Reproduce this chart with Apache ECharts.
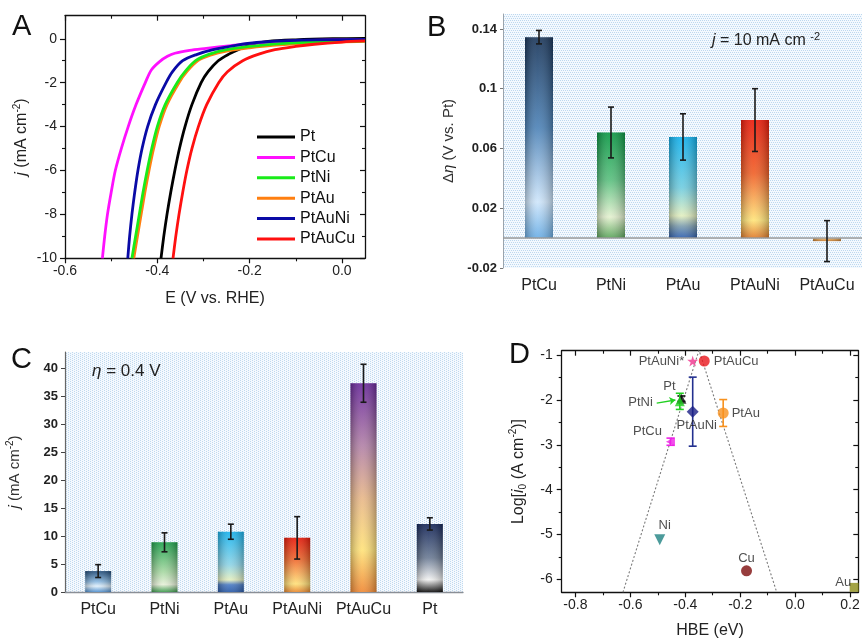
<!DOCTYPE html>
<html><head><meta charset="utf-8">
<script src="https://cdn.jsdelivr.net/npm/echarts@6/dist/echarts.min.js"></script>
<style>html,body{margin:0;padding:0;background:#fff}#c{width:862px;height:639px}</style>
</head><body><div id="c"></div>
<script>
const FONT = '"Liberation Sans", Arial, Helvetica, sans-serif';

// ---------- Panel A : polarization curves [E (V vs RHE), j (mA cm-2)] ----------
const aNames = ['Pt','PtCu','PtNi','PtAu','PtAuNi','PtAuCu'];
const aPt = [[-0.392,-10],[-0.386,-9],[-0.379,-8],[-0.371,-7],[-0.362,-6],[-0.352,-5],[-0.340,-4],[-0.325,-3],[-0.305,-2],[-0.29,-1.5],[-0.268,-1],[-0.245,-0.7],[-0.22,-0.45],[-0.195,-0.25],[-0.16,-0.12],[-0.1,-0.05],[-0.02,0],[0.05,0.02]];
const aPtCu = [[-0.519,-10],[-0.514,-9],[-0.508,-8],[-0.5,-7],[-0.491,-6],[-0.478,-5],[-0.463,-4],[-0.446,-3],[-0.426,-2],[-0.413,-1.42],[-0.395,-1.04],[-0.378,-0.8],[-0.362,-0.66],[-0.33,-0.53],[-0.294,-0.44],[-0.24,-0.31],[-0.185,-0.2],[-0.1,-0.1],[-0.02,-0.05],[0.05,-0.04]];
const aPtNi = [[-0.455,-10],[-0.447,-9],[-0.439,-8],[-0.431,-7],[-0.422,-6],[-0.412,-5],[-0.400,-4],[-0.383,-3],[-0.357,-2],[-0.34,-1.5],[-0.317,-1],[-0.287,-0.7],[-0.25,-0.5],[-0.2,-0.35],[-0.149,-0.24],[-0.08,-0.16],[0.05,-0.1]];
const aPtAu = [[-0.451,-10],[-0.443,-9],[-0.435,-8],[-0.427,-7],[-0.418,-6],[-0.408,-5],[-0.396,-4],[-0.379,-3],[-0.353,-2],[-0.336,-1.5],[-0.312,-1],[-0.285,-0.75],[-0.25,-0.56],[-0.2,-0.41],[-0.15,-0.3],[-0.05,-0.18],[0.05,-0.12]];
const aPtAuNi = [[-0.464,-10],[-0.46,-9],[-0.455,-8],[-0.449,-7],[-0.442,-6],[-0.433,-5],[-0.421,-4],[-0.404,-3],[-0.381,-2],[-0.367,-1.5],[-0.345,-1],[-0.315,-0.72],[-0.279,-0.5],[-0.23,-0.3],[-0.185,-0.17],[-0.1,-0.07],[0.05,-0.03]];
const aPtAuCu = [[-0.366,-10],[-0.36,-9],[-0.353,-8],[-0.345,-7],[-0.336,-6],[-0.325,-5],[-0.311,-4],[-0.293,-3],[-0.267,-2],[-0.248,-1.5],[-0.215,-1],[-0.18,-0.7],[-0.145,-0.5],[-0.1,-0.35],[-0.06,-0.25],[0,-0.15],[0.05,-0.1]];
const aXMajor = [-0.6,-0.4,-0.2,0];
const aXMinor = [-0.5,-0.3,-0.1];
const aYMajor = [-10,-8,-6,-4,-2,0];
const aYMinor = [-9,-7,-5,-3,-1];

// ---------- Panel B : Δη at j = 10 mA cm-2 ----------
const bCats = ['PtCu','PtNi','PtAu','PtAuNi','PtAuCu'];
const bVals = [0.1345, 0.0707, 0.0677, 0.079, -0.002];
const bErr  = [0.0045, 0.017, 0.0155, 0.021, 0.0137];

// ---------- Panel C : j at η = 0.4 V ----------
const cCats = ['PtCu','PtNi','PtAu','PtAuNi','PtAuCu','Pt'];
const cVals = [3.75, 8.9, 10.8, 9.7, 37.4, 12.2];
const cErr  = [1.15, 1.7, 1.35, 3.8, 3.4, 1.1];

// ---------- Panel D : volcano plot ----------
const dNames = ['PtAuNi*','PtAuCu','Pt','PtNi','PtAuNi','PtAu','PtCu','Ni','Cu','Au'];
const dHBE   = [-0.373,-0.331,-0.414,-0.42,-0.373,-0.262,-0.454,-0.493,-0.177,0.215];
const dLog   = [-1.13,-1.13,-1.97,-2.03,-2.26,-2.29,-2.93,-5.12,-5.81,-6.18];
const dErr   = [0,0,0.06,0.18,0.77,0.3,0.08,0,0,0];
const dVolcano = [[-0.627,-6.29],[-0.35,-0.89],[-0.067,-6.29]];
const dXMajor = [-0.8,-0.6,-0.4,-0.2,0,0.2];
const dXMinor = [-0.7,-0.5,-0.3,-0.1,0.1];
const dYMajor = [-6,-5,-4,-3,-2,-1];
const dYMinor = [-5.5,-4.5,-3.5,-2.5,-1.5];

// ---------------- styles ----------------
const aColors = {Pt:'#000000',PtCu:'#ff10ff',PtNi:'#18ec18',PtAu:'#ff7f10',PtAuNi:'#0a0aa6',PtAuCu:'#ff1010'};
const aData = {Pt:aPt,PtCu:aPtCu,PtNi:aPtNi,PtAu:aPtAu,PtAuNi:aPtAuNi,PtAuCu:aPtAuCu};
function vgrad(stops){return {type:'linear',x:0,y:0,x2:0,y2:1,colorStops:stops.map(s=>({offset:s[0],color:s[1]}))};}
const bGrad = {
  PtCu: vgrad([[0,'#1c385c'],[0.45,'#4f84b8'],[0.82,'#cfe6fb'],[1,'#6aaee6']]),
  PtNi: vgrad([[0,'#0c9a46'],[0.45,'#5cc080'],[0.8,'#e4f1d0'],[1,'#5aa55a']]),
  PtAu: vgrad([[0,'#12b2ee'],[0.5,'#72cde0'],[0.78,'#e2efc0'],[0.88,'#7f9fb0'],[1,'#2e5fb0']]),
  PtAuNi: vgrad([[0,'#ee1c0c'],[0.45,'#f0622a'],[0.85,'#ffe47a'],[1,'#e07a2a']]),
  PtAuCu: vgrad([[0,'#f4c27a'],[1,'#c87a2a']])
};
const cGrad = {
  PtCu: vgrad([[0,'#1f4a78'],[0.5,'#8ab8e0'],[0.72,'#e0f0fc'],[1,'#4f90d0']]),
  PtNi: vgrad([[0,'#1fa24c'],[0.6,'#a9d9a4'],[0.85,'#e6f0d8'],[1,'#3c9a4c']]),
  PtAu: vgrad([[0,'#18b4ef'],[0.55,'#8fd4e6'],[0.8,'#e4efc0'],[0.88,'#4c7cc4'],[1,'#2a5aa8']]),
  PtAuNi: vgrad([[0,'#ea1a0a'],[0.4,'#f06a30'],[0.85,'#ffe07a'],[1,'#ea8a30']]),
  PtAuCu: vgrad([[0,'#6b2a9c'],[0.3,'#b383a8'],[0.55,'#e8b88a'],[0.8,'#ffe27a'],[1,'#f08a36']]),
  Pt: vgrad([[0,'#15275a'],[0.5,'#6d7d96'],[0.82,'#f2f2f2'],[1,'#0a0a0a']])
};
const shade = {type:'linear',x:0,y:0,x2:1,y2:0,colorStops:[{offset:0,color:'rgba(0,0,0,0.28)'},{offset:0.45,color:'rgba(255,255,255,0.08)'},{offset:1,color:'rgba(0,0,0,0.28)'}]};
const STAR = 'path://M50,0 L61,35 L98,35 L68,57 L79,91 L50,70 L21,91 L32,57 L2,35 L39,35 Z';
const dStyle = {
  'PtAuNi*':{symbol:STAR,size:11,color:'#f0328c',label:{position:'left',distance:3}},
  'PtAuCu':{symbol:'circle',size:11,color:'#e8151c',label:{position:'right',distance:4}},
  'Pt':{symbol:'triangle',size:10,color:'#111111',label:{position:'top',distance:1,offset:[-12,0]}},
  'PtNi':{symbol:'triangle',size:10,color:'#22d022',label:{position:'left',distance:22,offset:[0,1]}},
  'PtAuNi':{symbol:'diamond',size:12,color:'#1a1f86',label:{position:'bottom',distance:1,offset:[4,0]}},
  'PtAu':{symbol:'circle',size:11,color:'#f7911e',label:{position:'right',distance:3}},
  'PtCu':{symbol:'triangle',rotate:90,size:9,color:'#ee22e6',label:{position:'left',distance:4,offset:[0,-10]}},
  'Ni':{symbol:'triangle',rotate:180,size:11,color:'#1f8282',label:{position:'top',distance:2,offset:[5,0]}},
  'Cu':{symbol:'circle',size:11,color:'#7d0d0d',label:{position:'top',distance:0}},
  'Au':{symbol:'rect',size:9,color:'#8c8c16',label:{position:'top',distance:0,offset:[-11,6]}}
};
function pattern(bg, fg, dots, w, h){
  const c=document.createElement('canvas'); c.width=w; c.height=h;
  const g=c.getContext('2d'); g.fillStyle=bg; g.fillRect(0,0,w,h); g.fillStyle=fg;
  dots.forEach(d=>g.fillRect(d[0],d[1],1,1)); return {image:c, repeat:'repeat'};
}
const patB = pattern('#f4f9fe','#bdd8ef',[[0,0],[1,2]],2,4);
const patC = pattern('#f4f9fe','#bfd9ef',[[0,0],[2,1]],4,2);

const nameStyle = (size)=>({fontSize:size,color:'#222',fontFamily:FONT,lineHeight:20,
  rich:{i:{fontStyle:'italic',fontSize:size,fontFamily:FONT,color:'#222',lineHeight:20},
        s:{fontSize:Math.round(size*0.65),fontFamily:FONT,color:'#222',verticalAlign:'top',lineHeight:20},
        b:{fontSize:Math.round(size*0.65),fontFamily:FONT,color:'#222',verticalAlign:'bottom',lineHeight:20}}});

// ---------------- axes ----------------
const xAxes=[], yAxes=[];
const LC = '#111';
function boxAxes(gi, dim, min, max, major, minor, fmt, fs, margin, name, gap, nfs){
  const arr = dim==='x'?xAxes:yAxes;
  const p1 = dim==='x'?'bottom':'left', p2 = dim==='x'?'top':'right';
  const base = {gridIndex:gi,type:'value',min:min,max:max,splitLine:{show:false},axisLabel:{show:false}};
  const idx = arr.length;
  const main = Object.assign({},base,{position:p1,
    axisLine:{show:true,onZero:false,lineStyle:{color:LC,width:1.3}},
    axisTick:{show:true,inside:false,length:5,customValues:major,lineStyle:{color:LC,width:1.2}},
    axisLabel:{show:true,customValues:major,formatter:fmt,fontSize:fs,color:'#222',fontFamily:FONT,margin:margin},
    name:name,nameLocation:'middle',nameGap:gap,nameTextStyle:nameStyle(nfs)});
  if(dim==='y') main.nameRotate = 90;
  arr.push(main);
  arr.push(Object.assign({},base,{position:p1,axisLine:{show:false,onZero:false},
    axisTick:{show:true,inside:false,length:3,customValues:minor,lineStyle:{color:LC,width:1.1}}}));
  arr.push(Object.assign({},base,{position:p2,axisLine:{show:true,onZero:false,lineStyle:{color:LC,width:1.3}},
    axisTick:{show:true,inside:true,length:5,customValues:major,lineStyle:{color:LC,width:1.2}}}));
  arr.push(Object.assign({},base,{position:p2,axisLine:{show:false,onZero:false},
    axisTick:{show:true,inside:true,length:3,customValues:minor,lineStyle:{color:LC,width:1.1}}}));
  return idx;
}
const fmt1 = v=>v.toFixed(1);
const fmt0 = v=>String(Math.round(v));
const axA_x = boxAxes(0,'x',-0.6,0.05,aXMajor,aXMinor,fmt1,14,6,'E (V vs. RHE)',30,16);
const axA_y = boxAxes(0,'y',-10,1.05,aYMajor,aYMinor,fmt0,14,8,'{i|j} (mA cm{s|-2})',33,16);
const axB_x = xAxes.length;
xAxes.push({gridIndex:1,type:'category',data:bCats,axisLine:{show:false,onZero:false},axisTick:{show:false},
  axisLabel:{interval:0,fontSize:16,color:'#222',fontFamily:FONT,margin:10},splitLine:{show:false}});
const axB_y = yAxes.length;
yAxes.push({gridIndex:1,type:'value',min:-0.02,max:0.15,interval:0.04,splitLine:{show:false},
  axisLine:{show:true,onZero:false,lineStyle:{color:'#9aa4ad',width:1}},
  axisTick:{show:true,length:3,lineStyle:{color:'#777'}},
  axisLabel:{showMaxLabel:false,fontWeight:'bold',fontSize:13,color:'#222',fontFamily:FONT,margin:6},
  name:'Δ{i|η} (V vs. Pt)',nameLocation:'middle',nameRotate:90,nameGap:44,nameTextStyle:Object.assign(nameStyle(15),{color:'#333'})});
const axC_x = xAxes.length;
xAxes.push({gridIndex:2,type:'category',data:cCats,axisLine:{show:true,onZero:false,lineStyle:{color:'#8a8f96',width:1.3}},axisTick:{show:false},
  axisLabel:{interval:0,fontSize:16,color:'#222',fontFamily:FONT,margin:10},splitLine:{show:false}});
const axC_y = yAxes.length;
yAxes.push({gridIndex:2,type:'value',min:0,max:43,interval:5,splitLine:{show:false},
  axisLine:{show:true,onZero:false,lineStyle:{color:'#666',width:1.2}},
  axisTick:{show:true,length:4,lineStyle:{color:'#444'}},
  axisLabel:{showMaxLabel:false,fontWeight:'bold',fontSize:13,color:'#222',fontFamily:FONT,margin:7},
  name:'{i|j} (mA cm{s|-2})',nameLocation:'middle',nameRotate:90,nameGap:40,nameTextStyle:Object.assign(nameStyle(15),{color:'#333'})});
const axD_x = boxAxes(3,'x',-0.85,0.23,dXMajor,dXMinor,fmt1,14,6,'HBE (eV)',28,16);
const axD_y = boxAxes(3,'y',-6.29,-0.9,dYMajor,dYMinor,fmt0,14,9,'Log[{i|i}{b|0} (A cm{s|-2})]',33,16);

// ---------------- series ----------------
function errRender(capW, lw){
  return function(params, api){
    const x=api.value(0), y=api.value(1), e=api.value(2);
    if(!e) return null;
    const t=api.coord([x,y+e]), b=api.coord([x,y-e]);
    const st={stroke:api.visual('color'),lineWidth:lw};
    return {type:'group',children:[
      {type:'line',shape:{x1:t[0],y1:t[1],x2:b[0],y2:b[1]},style:st},
      {type:'line',shape:{x1:t[0]-capW/2,y1:t[1],x2:t[0]+capW/2,y2:t[1]},style:st},
      {type:'line',shape:{x1:b[0]-capW/2,y1:b[1],x2:b[0]+capW/2,y2:b[1]},style:st}]};
  };
}
const series = [];
['Pt','PtCu','PtAu','PtNi','PtAuNi','PtAuCu'].forEach(n=>{
  series.push({name:n,type:'line',xAxisIndex:axA_x,yAxisIndex:axA_y,data:aData[n],showSymbol:false,symbol:'none',
    smooth:0.3,lineStyle:{width:2.8,color:aColors[n]},itemStyle:{color:aColors[n]},z:3,clip:true});
});
// B
series.push({type:'bar',xAxisIndex:axB_x,yAxisIndex:axB_y,barWidth:28,barGap:'-100%',z:2,
  data:bVals.map((v,i)=>({value:v,itemStyle:{color:bGrad[bCats[i]]}})),
  markLine:{silent:true,symbol:['none','none'],label:{show:false},lineStyle:{color:'#9a9a9a',width:1.5,type:'solid'},data:[{yAxis:0}]}});
series.push({type:'bar',xAxisIndex:axB_x,yAxisIndex:axB_y,barWidth:28,barGap:'-100%',z:3,silent:true,
  data:bVals.map(v=>({value:v,itemStyle:{color:shade}}))});
series.push({type:'custom',xAxisIndex:axB_x,yAxisIndex:axB_y,z:5,itemStyle:{color:'#1a1a1a'},
  renderItem:errRender(6,1.6),data:bVals.map((v,i)=>[i,v,bErr[i]])});
// C
series.push({type:'bar',xAxisIndex:axC_x,yAxisIndex:axC_y,barWidth:26,barGap:'-100%',z:2,
  data:cVals.map((v,i)=>({value:v,itemStyle:{color:cGrad[cCats[i]]}}))});
series.push({type:'bar',xAxisIndex:axC_x,yAxisIndex:axC_y,barWidth:26,barGap:'-100%',z:3,silent:true,
  data:cVals.map(v=>({value:v,itemStyle:{color:shade}}))});
series.push({type:'custom',xAxisIndex:axC_x,yAxisIndex:axC_y,z:5,itemStyle:{color:'#1a1a1a'},
  renderItem:errRender(6,1.6),data:cVals.map((v,i)=>[i,v,cErr[i]])});
// D
series.push({type:'line',xAxisIndex:axD_x,yAxisIndex:axD_y,data:dVolcano,symbol:'none',z:1,
  lineStyle:{color:'#7a7a7a',width:1.1,type:[2,2]}});
series.push({type:'custom',xAxisIndex:axD_x,yAxisIndex:axD_y,z:4,renderItem:errRender(8,1.6),
  data:dNames.map((n,i)=>({value:[dHBE[i],dLog[i],dErr[i]],itemStyle:{color:n==='PtAuNi'?'#23308f':dStyle[n].color}}))});
series.push({type:'scatter',xAxisIndex:axD_x,yAxisIndex:axD_y,z:6,
  data:dNames.map((n,i)=>{const s=dStyle[n];return {name:n,value:[dHBE[i],dLog[i]],symbol:s.symbol,symbolSize:s.size,
    symbolRotate:s.rotate||0,itemStyle:{color:s.color},
    label:Object.assign({show:true,formatter:'{b}',fontSize:13,color:'#222',fontFamily:FONT},s.label)};}),
  markLine:{silent:true,symbol:['none','arrow'],symbolSize:6,label:{show:false},lineStyle:{color:'#22d022',width:1.3,type:'solid'},
    data:[[{coord:[-0.504,-2.07]},{coord:[-0.436,-2.0]}]]}});

const option = {
  animation:false,
  backgroundColor:'#ffffff',
  textStyle:{fontFamily:FONT},
  grid:[
    {left:65,top:15.7,width:300,height:242.6,outerBoundsMode:'none'},
    {left:503,top:14,width:360,height:254,show:true,backgroundColor:patB,borderWidth:0,outerBoundsMode:'none'},
    {left:65,top:352,width:398,height:240,show:true,backgroundColor:patC,borderWidth:0,outerBoundsMode:'none'},
    {left:561.7,top:350.7,width:296.6,height:241.6,outerBoundsMode:'none'}
  ],
  legend:{data:aNames,orient:'vertical',left:252,top:124,itemWidth:38,itemHeight:3,itemGap:4.4,icon:'rect',selectedMode:false,
    textStyle:{fontSize:16,color:'#111',fontFamily:FONT,lineHeight:16}},
  xAxis:xAxes, yAxis:yAxes, series:series,
  graphic:[
    {type:'text',left:12,top:12,style:{text:'A',fontSize:29,fill:'#111',fontFamily:FONT}},
    {type:'text',left:427,top:13,style:{text:'B',fontSize:29,fill:'#111',fontFamily:FONT}},
    {type:'text',left:11,top:345,style:{text:'C',fontSize:29,fill:'#111',fontFamily:FONT}},
    {type:'text',left:509,top:340,style:{text:'D',fontSize:29,fill:'#111',fontFamily:FONT}},
    {type:'text',left:712,top:31,style:{text:'{i|j} = 10 mA cm {s|-2}',fontSize:16,fill:'#222',fontFamily:FONT,
      rich:{i:{fontStyle:'italic',fontSize:16,fontFamily:FONT,lineHeight:20},s:{fontSize:11,fontFamily:FONT,verticalAlign:'top',lineHeight:20}}}},
    {type:'text',left:92,top:363,style:{text:'{i|η} = 0.4 V',fontSize:17,fill:'#222',fontFamily:FONT,
      rich:{i:{fontStyle:'italic',fontSize:17,fontFamily:FONT}}}}
  ]
};
const chart = echarts.init(document.getElementById('c'), null, {renderer:'canvas',width:862,height:639});
chart.setOption(option);
</script></body></html>
